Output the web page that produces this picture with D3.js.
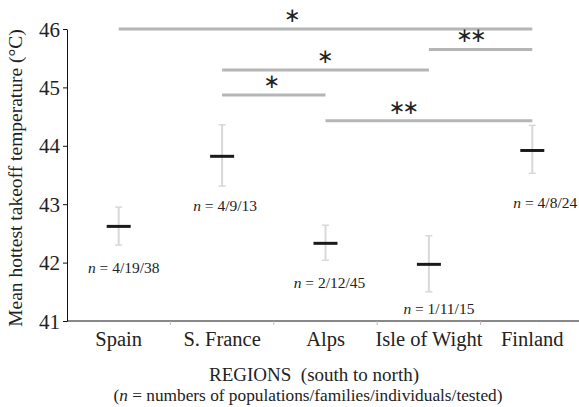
<!DOCTYPE html>
<html><head><meta charset="utf-8">
<script src="https://cdn.jsdelivr.net/npm/d3@7"></script>
<style>
html,body{margin:0;padding:0;background:#fff;}
svg{display:block;font-family:"Liberation Serif","Times New Roman",serif;}
svg text{font-family:"Liberation Serif","Times New Roman",serif;}
svg text.star{font-family:"DejaVu Sans",sans-serif;}
</style></head>
<body><svg id="c" width="579" height="407"></svg>
<script>
// ---- data ----
const categories = ["Spain", "S. France", "Alps", "Isle of Wight", "Finland"];
const means = [42.62, 43.82, 42.33, 41.97, 43.92];
const lower = [42.30, 43.31, 42.04, 41.50, 43.53];
const upper = [42.95, 44.36, 42.64, 42.46, 44.35];
const nLabels = ["4/19/38", "4/9/13", "2/12/45", "1/11/15", "4/8/24"];
const yTicks = [41, 42, 43, 44, 45, 46];
const sigFrom = ["Spain", "Isle of Wight", "S. France", "S. France", "Alps"];
const sigTo = ["Finland", "Finland", "Isle of Wight", "Alps", "Finland"];
const sigLevel = [46.0, 45.65, 45.3, 44.87, 44.43];
const sigMarks = ["\u2217", "\u2217\u2217", "\u2217", "\u2217", "\u2217\u2217"];

// ---- layout (pixels) ----
const labelDx = [5, 3, 4, 10, 13];
const labelDy = [22, 19, 22, 17, 29];
const starDx = [-33, -9, 0, -2, -25];

const svg = d3.select("#c");
const x = d3.scaleBand().domain(categories).range([67, 584]).padding(0);
const y = d3.scaleLinear().domain([41, 46]).range([321, 29]);
const cx = c => x(c) + x.bandwidth() / 2;

// y axis
const yAxis = d3.axisLeft(y).tickValues(yTicks).tickSize(4).tickSizeOuter(0).tickPadding(3).tickFormat(d3.format("d"));
const gy = svg.append("g").attr("transform", "translate(67,0)").call(yAxis);
gy.attr("font-family", null).attr("font-size", null);
gy.select(".domain").attr("stroke", "#111").attr("stroke-width", 1);
gy.selectAll(".tick line").attr("stroke", "#111");
gy.selectAll(".tick text").style("font-size", "21px").attr("fill", "#222").attr("dy", "0.34em");

// x axis
svg.append("line").attr("x1", 67).attr("x2", 579).attr("y1", y(41)).attr("y2", y(41)).attr("stroke", "#111");
const xAxis = d3.axisBottom(x).tickSize(0).tickPadding(10);
const gx = svg.append("g").attr("transform", `translate(0,${y(41)})`).call(xAxis);
gx.attr("font-family", null).attr("font-size", null);
gx.select(".domain").remove();
gx.selectAll(".tick text").style("font-size", "20.5px").attr("fill", "#222");
// band boundary ticks
svg.selectAll(".bt").data(categories.slice(1)).join("line")
  .attr("x1", d => x(d)).attr("x2", d => x(d))
  .attr("y1", y(41)).attr("y2", y(41) + 4)
  .attr("stroke", "#bbb").attr("stroke-width", 1);

// y title
svg.append("text").attr("transform", "translate(22,178) rotate(-90)")
  .attr("text-anchor", "middle").style("font-size", "19.5px").attr("fill", "#222")
  .text("Mean hottest takeoff temperature (°C)");

// x titles
svg.append("text").attr("x", 314).attr("y", 381).attr("text-anchor", "middle")
  .style("font-size", "19px").style("white-space", "pre").attr("fill", "#222")
  .text("REGIONS  (south to north)");
const sub = svg.append("text").attr("x", 308).attr("y", 401).attr("text-anchor", "middle")
  .style("font-size", "17.3px").attr("fill", "#222");
sub.append("tspan").text("(");
sub.append("tspan").attr("font-style", "italic").text("n");
sub.append("tspan").text(" = numbers of populations/families/individuals/tested)");

// significance bars
svg.selectAll(".sig").data(sigLevel).join("line")
  .attr("x1", (d, i) => cx(sigFrom[i])).attr("x2", (d, i) => cx(sigTo[i]))
  .attr("y1", d => y(d)).attr("y2", d => y(d))
  .attr("stroke", "#b5b5b5").attr("stroke-width", 3);
svg.selectAll(".star").data(sigMarks).join("text").attr("class", "star")
  .attr("x", (d, i) => (cx(sigFrom[i]) + cx(sigTo[i])) / 2 + starDx[i] - 1.5)
  .attr("y", (d, i) => y(sigLevel[i]) - 7)
  .attr("text-anchor", "middle").style("font-size", "20px").style("letter-spacing", "-3px").attr("fill", "#222")
  .text(d => d);

// error bars
const idx = d3.range(categories.length);
svg.selectAll(".eb").data(idx).join("line")
  .attr("x1", i => cx(categories[i])).attr("x2", i => cx(categories[i]))
  .attr("y1", i => y(upper[i])).attr("y2", i => y(lower[i]))
  .attr("stroke", "#d8d8d8").attr("stroke-width", 2);
[upper, lower].forEach(arr => {
  svg.selectAll(null).data(idx).join("line")
    .attr("x1", i => cx(categories[i]) - 3.5).attr("x2", i => cx(categories[i]) + 3.5)
    .attr("y1", i => y(arr[i])).attr("y2", i => y(arr[i]))
    .attr("stroke", "#d8d8d8").attr("stroke-width", 1.5);
});
// mean marks
svg.selectAll(".mean").data(idx).join("line")
  .attr("x1", i => cx(categories[i]) - 12).attr("x2", i => cx(categories[i]) + 12)
  .attr("y1", i => y(means[i])).attr("y2", i => y(means[i]))
  .attr("stroke", "#1a1a1a").attr("stroke-width", 3);

// n labels
const nl = svg.selectAll(".nl").data(idx).join("text")
  .attr("x", i => cx(categories[i]) + labelDx[i])
  .attr("y", i => y(lower[i]) + labelDy[i])
  .attr("dy", "0.35em").attr("text-anchor", "middle")
  .style("font-size", "15.5px").attr("fill", "#222");
nl.append("tspan").attr("font-style", "italic").text("n");
nl.append("tspan").text(i => " = " + nLabels[i]);
</script></body></html>
